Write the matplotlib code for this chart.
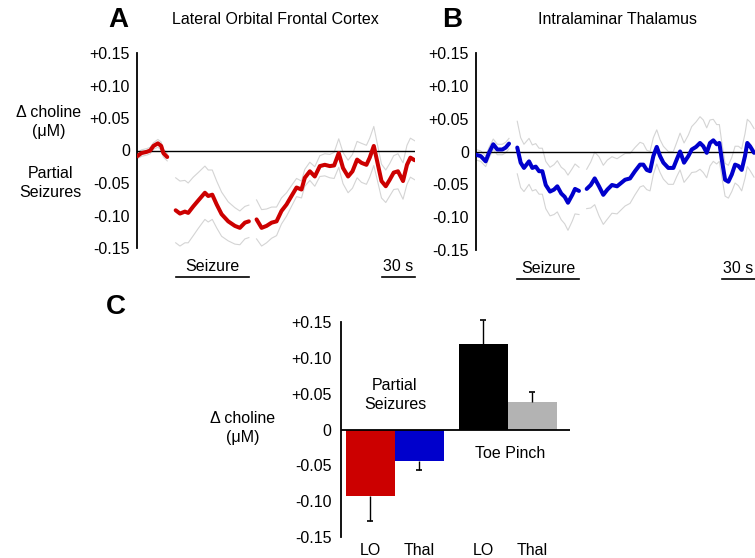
import numpy as np
import matplotlib
matplotlib.use('Agg')
import matplotlib.pyplot as plt

plt.rcParams['font.family'] = ['Liberation Sans', 'DejaVu Sans']

# --- Panel A: lateral orbital frontal cortex (time in s, choline in uM) ---
lo_pre_t = [0, 4, 9, 12, 15, 19, 22, 24, 27.5]
lo_pre_y = [-0.009, -0.004, -0.002, 0.0, 0.007, 0.011, 0.007, -0.004, -0.010]
lo_pre_sem = [0.004, 0.005, 0.005, 0.005, 0.005, 0.006, 0.006, 0.006, 0.006]

lo_sz_t = [35.2, 39.1, 43.6, 46.6, 51.2, 55.7, 61.8, 64.8, 68.5, 72.5, 77, 83, 89.1, 93.6, 98.2, 101.8]
lo_sz_y = [-0.092, -0.097, -0.094, -0.096, -0.086, -0.077, -0.065, -0.070, -0.068, -0.083,
           -0.098, -0.109, -0.116, -0.119, -0.111, -0.109]
lo_sz_sem = [0.050, 0.050, 0.048, 0.046, 0.045, 0.043, 0.041, 0.040, 0.038, 0.036,
             0.034, 0.030, 0.028, 0.026, 0.025, 0.025]

lo_post_t = [108.8, 113.4, 117.9, 122.5, 127, 131.5, 136.1, 140.6, 145.2, 149.7,
             152.7, 157.3, 161.8, 166.4, 170.9, 175.5, 179.4, 183.6, 187.5, 192.1,
             196.1, 200.3, 204.3, 208.8, 211.8, 215.5, 218.5, 222.5, 226.4, 230,
             233.6, 237.5, 242.1, 245.7, 248.8, 252.7]
lo_post_y = [-0.106, -0.119, -0.116, -0.111, -0.109, -0.093, -0.083, -0.070, -0.057, -0.060,
             -0.042, -0.032, -0.040, -0.024, -0.022, -0.024, -0.023, -0.004, -0.027, -0.040,
             -0.032, -0.014, -0.019, -0.022, -0.011, 0.007, -0.016, -0.047, -0.055, -0.045,
             -0.034, -0.032, -0.047, -0.022, -0.011, -0.015]
lo_post_sem = [0.030, 0.028, 0.026, 0.024, 0.022, 0.020, 0.018, 0.016, 0.014, 0.013,
               0.013, 0.014, 0.015, 0.016, 0.017, 0.018, 0.020, 0.022, 0.024, 0.025,
               0.026, 0.028, 0.030, 0.030, 0.030, 0.030, 0.028, 0.026, 0.025, 0.025,
               0.026, 0.027, 0.028, 0.030, 0.030, 0.030]
lo_seizure = [35.2, 101.8]

# --- Panel B: intralaminar thalamus ---
th_pre_t = [0, 4.3, 8.8, 11.8, 15.7, 19.4, 23.9, 27, 30]
th_pre_y = [-0.005, -0.007, -0.015, -0.002, 0.011, 0.003, 0.003, 0.006, 0.012]
th_pre_sem = [0.008, 0.008, 0.008, 0.008, 0.008, 0.008, 0.008, 0.008, 0.008]

th_sz_t = [37.5, 40.6, 43.6, 48.2, 51.2, 54.3, 57.3, 60.3, 63.4, 67.3, 70.9, 73.9,
           77.5, 80.6, 83.6, 87.5, 90, 93.6]
th_sz_y = [0.006, -0.017, -0.025, -0.015, -0.025, -0.023, -0.030, -0.030, -0.051, -0.061,
           -0.058, -0.053, -0.064, -0.069, -0.078, -0.066, -0.057, -0.060]
th_sz_sem = [0.040, 0.038, 0.036, 0.035, 0.035, 0.035, 0.035, 0.035, 0.036, 0.037,
             0.038, 0.039, 0.040, 0.041, 0.042, 0.040, 0.038, 0.036]

th_post_t = [100.6, 104.3, 107.9, 111.8, 115.7, 119.4, 123.6, 128.2, 135.5, 140,
             144.5, 149.1, 152.1, 155.2, 158.2, 161.2, 164.3, 167.3, 170.3, 174.8,
             179.4, 182.5, 185.5, 189.1, 193, 196.1, 200, 203.6, 206.6, 209.7,
             212.7, 215.7, 218.8, 221.2, 223.4, 226.4, 229.4, 232.5, 235.5, 238.5,
             241.5, 244.5, 246.6, 249.1, 252.7]
th_post_y = [-0.057, -0.051, -0.041, -0.053, -0.066, -0.058, -0.051, -0.053, -0.043, -0.041,
             -0.030, -0.020, -0.020, -0.028, -0.030, -0.007, 0.007, -0.007, -0.017, -0.025,
             -0.025, -0.012, 0.0, -0.017, -0.007, 0.003, 0.007, 0.013, 0.008, -0.002,
             0.013, 0.017, 0.011, 0.013, -0.012, -0.043, -0.046, -0.035, -0.020, -0.022,
             -0.028, -0.007, 0.013, 0.008, -0.002]
th_post_sem = [0.030, 0.035, 0.040, 0.045, 0.045, 0.045, 0.043, 0.042, 0.040, 0.038,
               0.036, 0.034, 0.032, 0.030, 0.030, 0.028, 0.026, 0.025, 0.025, 0.025,
               0.025, 0.026, 0.028, 0.030, 0.032, 0.035, 0.038, 0.040, 0.040, 0.038,
               0.035, 0.032, 0.030, 0.028, 0.026, 0.025, 0.025, 0.026, 0.028, 0.030,
               0.032, 0.034, 0.036, 0.037, 0.037]
th_seizure = [37.5, 93.6]

# --- Panel C: mean change ---
bar_labels = ['LO', 'Thal', 'LO', 'Thal']
bar_vals = [-0.093, -0.044, 0.120, 0.038]
bar_err = [0.034, 0.012, 0.033, 0.015]
bar_colors = ['#cc0000', '#0000cc', '#000000', '#b3b3b3']

yticks = [-0.15, -0.10, -0.05, 0, 0.05, 0.10, 0.15]
ytick_labels = ['-0.15', '-0.10', '-0.05', '0', '+0.05', '+0.10', '+0.15']

FS = 11.5

fig = plt.figure(figsize=(7.55, 5.58), dpi=100)


def trace_panel(ax, segments, color, seizure, t_end):
    for t, y, s in segments:
        t = np.array(t); y = np.array(y); s = np.array(s)
        ax.plot(t, y + s, color='#d4d4d4', lw=0.8, zorder=1)
        ax.plot(t, y - s, color='#d4d4d4', lw=0.8, zorder=1)
        ax.plot(t, y, color=color, lw=2.9, zorder=3, solid_capstyle='round')
    ax.axhline(0, color='black', lw=1.0, zorder=2)
    ax.set_xlim(0, t_end)
    ax.set_ylim(-0.15, 0.15)
    ax.set_yticks(yticks)
    ax.set_yticklabels(ytick_labels, fontsize=FS)
    ax.set_xticks([])
    ax.tick_params(axis='y', length=0, pad=5)
    for side in ['top', 'right', 'bottom']:
        ax.spines[side].set_visible(False)
    ax.spines['left'].set_linewidth(1.3)
    # seizure marker and 30 s scale bar under the axis
    ax.plot(seizure, [-0.194, -0.194], color='black', lw=1.2, clip_on=False)
    ax.text(np.mean(seizure), -0.178, 'Seizure', ha='center', va='center', fontsize=FS)
    ax.plot([t_end - 30, t_end], [-0.194, -0.194], color='black', lw=1.2, clip_on=False)
    ax.text(t_end - 15, -0.178, '30 s', ha='center', va='center', fontsize=FS)


axA = fig.add_axes([137/755, 1 - 248/558, 278/755, 195/558])
trace_panel(axA, [(lo_pre_t, lo_pre_y, lo_pre_sem),
                  (lo_sz_t, lo_sz_y, lo_sz_sem),
                  (lo_post_t, lo_post_y, lo_post_sem)], '#cc0000', lo_seizure, 253)

axB = fig.add_axes([476/755, 1 - 250/558, 279/755, 197/558])
trace_panel(axB, [(th_pre_t, th_pre_y, th_pre_sem),
                  (th_sz_t, th_sz_y, th_sz_sem),
                  (th_post_t, th_post_y, th_post_sem)], '#0000cc', th_seizure, 253.6)

# panel letters and titles
fig.text(118/755, 1 - 20/558, 'A', fontsize=20, fontweight='bold', ha='center', va='center')
fig.text(275/755, 1 - 19/558, 'Lateral Orbital Frontal Cortex', fontsize=FS, ha='center', va='center')
fig.text(452/755, 1 - 20/558, 'B', fontsize=20, fontweight='bold', ha='center', va='center')
fig.text(617/755, 1 - 19/558, 'Intralaminar Thalamus', fontsize=FS, ha='center', va='center')
fig.text(49/755, 1 - 122/558, 'Δ choline\n(μM)', fontsize=FS, ha='center', va='center', linespacing=1.3)
fig.text(50/755, 1 - 183/558, 'Partial\nSeizures', fontsize=FS, ha='center', va='center', linespacing=1.3)

# --- bar chart ---
axC = fig.add_axes([341/755, 1 - 537/558, 229/755, 215/558])
xpos = np.array([0, 1, 2.3, 3.3]) + 0.6
axC.bar(xpos, bar_vals, width=1.0, color=bar_colors, zorder=2)
# one-sided error bars, cap only on the far end
ends = [v - e if v < 0 else v + e for v, e in zip(bar_vals, bar_err)]
axC.vlines(xpos, bar_vals, ends, color='black', lw=1.0, zorder=3, clip_on=False)
axC.plot(xpos, ends, linestyle='none', marker='_', ms=5, mew=1.2, color='black',
         zorder=3, clip_on=False)
axC.axhline(0, color='black', lw=1.3, zorder=4)
axC.set_xlim(0, 229/49)
axC.set_ylim(-0.15, 0.15)
axC.set_yticks(yticks)
axC.set_yticklabels(ytick_labels, fontsize=FS)
axC.set_xticks(xpos)
axC.set_xticklabels(bar_labels, fontsize=FS)
axC.tick_params(axis='y', length=0, pad=7)
axC.tick_params(axis='x', length=0, pad=4)
for side in ['top', 'right', 'bottom']:
    axC.spines[side].set_visible(False)
axC.spines['left'].set_linewidth(1.3)
axC.text(1.1, 0.048, 'Partial\nSeizures', fontsize=FS, ha='center', va='center', linespacing=1.3)
axC.text(3.45, -0.034, 'Toe Pinch', fontsize=FS, ha='center', va='center')

fig.text(116/755, 1 - 307/558, 'C', fontsize=20, fontweight='bold', ha='center', va='center')
fig.text(243/755, 1 - 428/558, 'Δ choline\n(μM)', fontsize=FS, ha='center', va='center', linespacing=1.3)

fig.savefig('out.png', dpi=100)
